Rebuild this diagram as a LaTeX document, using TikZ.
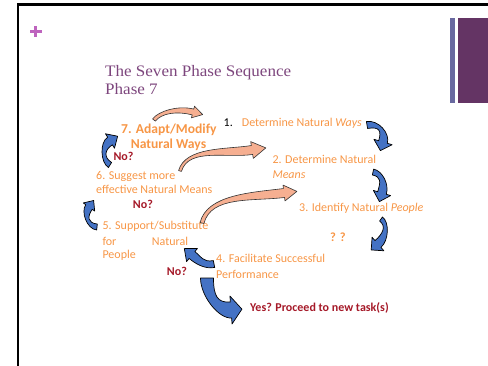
\documentclass[tikz,border=0pt]{standalone}
\usepackage{fontspec}
\setmainfont{Carlito}
\newfontfamily\titlefont{Liberation Serif}
\usetikzlibrary{calc}

\definecolor{phaseorange}{RGB}{247,150,70}
\definecolor{askred}{RGB}{165,25,40}
\definecolor{titlepurple}{RGB}{125,70,125}
\definecolor{plusmagenta}{RGB}{190,100,190}
\definecolor{barslate}{RGB}{105,105,160}
\definecolor{barplum}{RGB}{100,52,100}
\definecolor{loopblue}{RGB}{68,114,196}
\definecolor{stepsalmon}{RGB}{246,175,145}

% Curved block arrow along the centre curve (#2) .. (#3) and (#4) .. (#5):
% half width #6 at the tail, #7 at the head base, head half width #8, head length #9.
\newcommand\bentarrow[9]{%
  \draw[#1] ($(#2)!#6!90:(#3)$)
    .. controls ($(#3)!#6!-90:(#2)$) and ($(#4)!#7!90:(#5)$) .. ($(#5)!#7!-90:(#4)$)
    -- ($(#5)!#8!-90:(#4)$) -- ($(#5)!-#9!(#4)$) -- ($(#5)!#8!90:(#4)$)
    -- ($(#5)!#7!90:(#4)$)
    .. controls ($(#4)!#7!-90:(#5)$) and ($(#3)!#6!90:(#2)$) .. ($(#2)!#6!-90:(#3)$)
    -- cycle;}

\tikzset{
  lbl/.style={anchor=base west, inner sep=0pt, text=phaseorange,
    font=\fontsize{12}{14}\selectfont},
  lblbold/.style={lbl, font=\fontsize{13.6}{16}\selectfont\bfseries},
  ask/.style={lbl, text=askred, font=\fontsize{12}{14}\selectfont\bfseries},
  titletext/.style={anchor=base west, inner sep=0pt, text=titlepurple,
    font=\titlefont\fontsize{16}{18}\selectfont},
  bluearrow/.style={fill=loopblue, draw=black, line width=0.7pt, line join=round},
  salmonarrow/.style={fill=stepsalmon, draw=black!80, line width=0.6pt, line join=round},
}

\begin{document}
\begin{tikzpicture}[x=1pt, y=-1pt]
\useasboundingbox (0,0) rectangle (488,365);

% slide frame, corner mark and side bars
\draw[line width=2.3pt, line join=miter] (17.8,366) -- (17.8,4.5) -- (489,4.5);
\fill[plusmagenta] (30,29.6) rectangle (41.5,33);
\fill[plusmagenta] (34,26) rectangle (37.4,36.7);
\fill[barslate] (450,18) rectangle (455,103);
\fill[barplum] (458,18) rectangle (488,103);

% title
\node[titletext] (title1) at (105,76) {\scalebox{1.065}[1]{The Seven Phase Sequence}};
\node[titletext] (title2) at (105,94) {\scalebox{1.065}[1]{Phase 7}};

% phases
\node[lbl, text=black] (num1) at (223.5,126.7) {1.};
\node[lbl] (ph1) at (241.7,126.7) {Determine Natural \textit{Ways}};
\node[lbl] (ph2a) at (272.3,163.3) {2. Determine Natural};
\node[lbl] (ph2b) at (272.3,178.3) {\textit{Means}};
\node[lbl] (ph3) at (299,211.7) {3. Identify Natural \textit{People}};
\node[lbl, font=\fontsize{12.5}{14}\selectfont\bfseries] (qq) at (330,241.7) {? ?};
\node[lbl] (ph4a) at (216,262.3) {4. Facilitate Successful};
\node[lbl] (ph4b) at (216,278.3) {Performance};
\node[lbl] (ph5a) at (102.3,229.3) {5. Support/Substitute};
\node[lbl] (ph5b) at (102.3,245.7) {for};
\node[lbl] (ph5c) at (151.7,245.7) {Natural};
\node[lbl] (ph5d) at (102.3,258.3) {People};
\node[lbl] (ph6a) at (96,179.3) {6. Suggest more};
\node[lbl] (ph6b) at (96,193.3) {effective Natural Means};
\node[lblbold] (ph7a) at (121,133.3) {7. Adapt/Modify};
\node[lblbold] (ph7b) at (130.7,148.3) {Natural Ways};

% questions
\node[ask] (no7) at (113.3,160) {No?};
\node[ask] (no6) at (132.7,208.3) {No?};
\node[ask] (no4) at (166.7,275) {No?};
\node[ask] (yes) at (250,311.7) {Yes? Proceed to new task(s)};

% forward steps (salmon)
\bentarrow{salmonarrow}{154,120}{160,112}{178,108}{193,112}{1.8pt}{3pt}{6pt}{10pt}
\bentarrow{salmonarrow}{180,171}{187,147}{226,154}{252,150}{1.5pt}{4.5pt}{8.5pt}{14pt}
\bentarrow{salmonarrow}{202,223}{209,195}{252,197}{284,193}{2pt}{4.5pt}{8pt}{13pt}

% sequence and loop-back arrows (blue)
\bentarrow{bluearrow}{367,125}{379,123}{386,132}{383,142}{3.5pt}{4.5pt}{9.5pt}{9pt}
\bentarrow{bluearrow}{373,172}{382,174}{385,183}{382,193}{3pt}{4.5pt}{9pt}{9pt}
\bentarrow{bluearrow}{381,219}{388,224}{386,237}{378,244}{2.5pt}{4.5pt}{9pt}{9pt}
\bentarrow{bluearrow}{214,264}{204,266}{198,260}{192,255}{3.5pt}{4.5pt}{8.5pt}{10pt}
\bentarrow{bluearrow}{97,227}{87,226}{84,214}{89,207}{3pt}{4pt}{7pt}{8pt}
\bentarrow{bluearrow}{110,165}{102,160}{102,146}{110,141}{3pt}{4.5pt}{8.5pt}{9pt}
\bentarrow{bluearrow}{207,278}{207,296}{218,311}{231,310}{6.5pt}{8pt}{14pt}{11pt}
\end{tikzpicture}
\end{document}
